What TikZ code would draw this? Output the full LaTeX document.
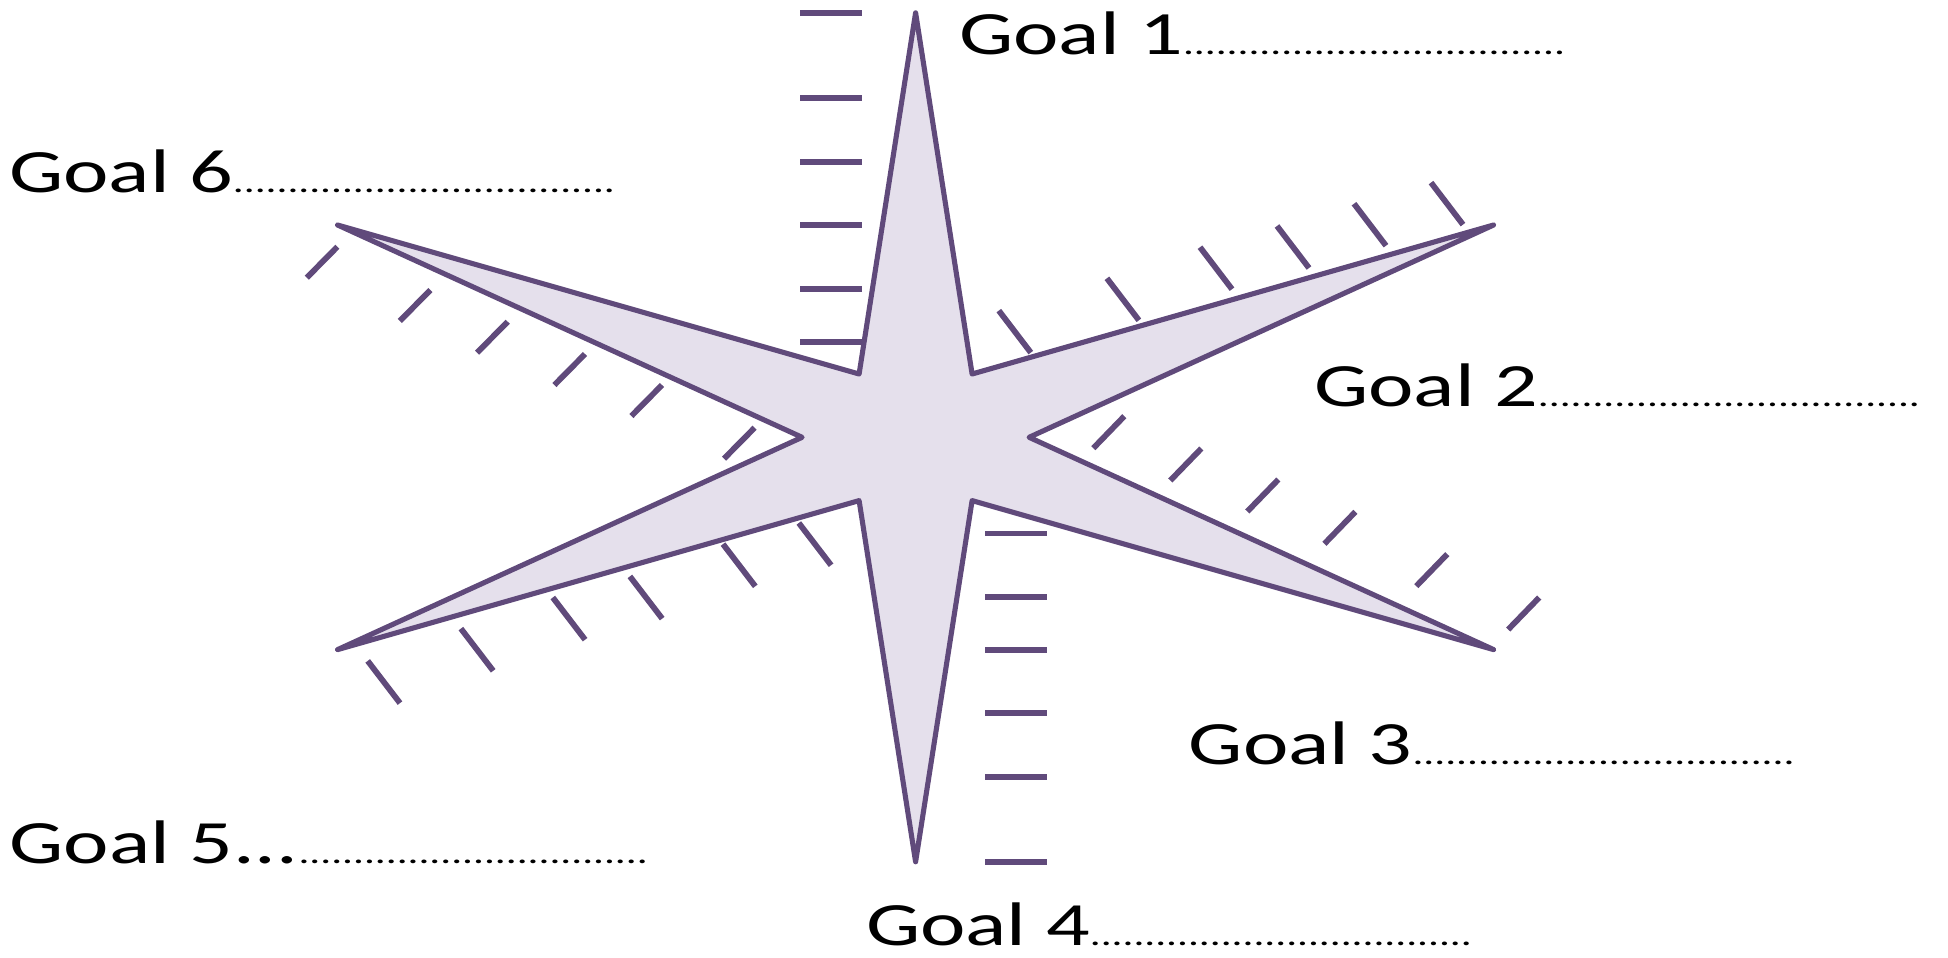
\documentclass[tikz,border=0pt]{standalone}
\usepackage{fontspec}
\usepackage{tikz}
\newfontfamily\goalfont[FakeStretch=1.4]{Carlito}
\definecolor{cPurple}{RGB}{96,74,123}
\definecolor{cLilac}{RGB}{229,224,236}
\newcommand{\smalldots}[1]{{\fontsize{8.8pt}{10pt}\selectfont #1}}
\tikzset{
    starshape/.style={draw=cPurple, fill=cLilac, line width=1.45pt, line join=round},
    scaletick/.style={draw=cPurple, line width=1.65pt},
    goallabel/.style={anchor=base west, inner sep=0pt, font=\goalfont\fontsize{17.5pt}{20pt}\selectfont},
}

\begin{document}
\begin{tikzpicture}
    \useasboundingbox (0,0) rectangle (19.48,9.57);
    % scales beside the spikes
    \foreach \y in {9.443,8.593,7.953,7.317,6.68,6.147}
        \draw[scaletick] (8.0,\y) -- (8.615,\y);
    \foreach \y in {4.235,3.602,3.07,2.44,1.80,0.95}
        \draw[scaletick] (9.85,\y) -- (10.47,\y);
    \foreach \x/\y in {9.988/6.464, 11.069/6.787, 12.0/7.098, 12.77/7.31, 13.54/7.533, 14.31/7.744}
        \draw[scaletick] (\x,\y) -- ++(0.32,-0.42);
    \foreach \x/\y in {7.988/4.34, 7.23/4.129, 6.299/3.806, 5.528/3.595, 4.609/3.284, 3.677/2.961}
        \draw[scaletick] (\x,\y) -- ++(0.323,-0.422);
    \foreach \x/\y in {3.374/7.103, 4.304/6.67, 5.077/6.353, 5.85/6.03, 6.62/5.72, 7.546/5.293}
        \draw[scaletick] (\x,\y) -- ++(-0.306,-0.31);
    \foreach \x/\y in {11.243/5.408, 12.013/5.085, 12.783/4.775, 13.554/4.452, 14.473/4.029, 15.392/3.595}
        \draw[scaletick] (\x,\y) -- ++(-0.31,-0.32);
    % the star
    \begin{scope}[shift={(9.156,5.197)}]
        \draw[starshape] (0,4.245) -- (0.565,0.633) -- (5.78,2.123) -- (1.135,0) -- (5.78,-2.123) -- (0.565,-0.633)
            -- (0,-4.245) -- (-0.565,-0.633) -- (-5.78,-2.123) -- (-1.135,0) -- (-5.78,2.123) -- (-0.565,0.633) -- cycle;
    \end{scope}
    % goals
    \node[goallabel] (g1) at (9.585,9.03) {Goal 1\smalldots{...................................}};
    \node[goallabel] (g2) at (13.134,5.51) {Goal 2\smalldots{...................................}};
    \node[goallabel] (g3) at (11.88,1.924) {Goal 3\smalldots{...................................}};
    \node[goallabel] (g4) at (8.653,0.12) {Goal 4\smalldots{...................................}};
    \node[goallabel] (g5) at (0.088,0.937) {Goal 5...\smalldots{................................}};
    \node[goallabel] (g6) at (0.084,7.65) {Goal 6\smalldots{...................................}};
\end{tikzpicture}
\end{document}
